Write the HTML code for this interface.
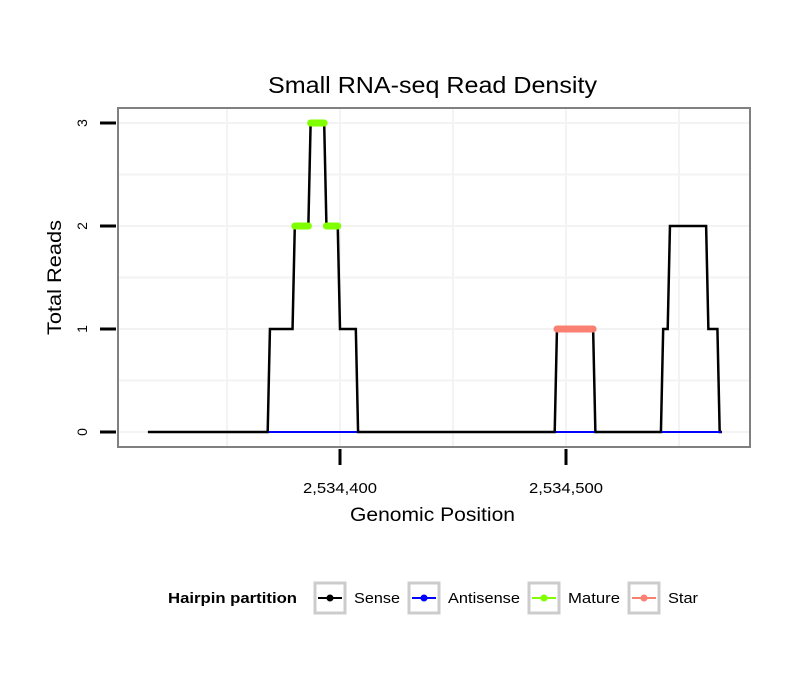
<!DOCTYPE html>
<html><head><meta charset="utf-8"><style>
body{margin:0;background:#fff;font-family:"Liberation Sans",sans-serif}
</style></head><body>
<svg id="chart" width="810" height="690" xmlns="http://www.w3.org/2000/svg" font-family="Liberation Sans, sans-serif">
<rect width="810" height="690" fill="#fff"/>
<text x="268" y="93" font-size="23" textLength="329" lengthAdjust="spacingAndGlyphs">Small RNA-seq Read Density</text>
<g id="grid"></g>
<g id="marks"></g>
<rect x="118" y="108" width="632" height="339" fill="none" stroke="#808080" stroke-width="2"/>
<g id="axes"></g>
<text x="350" y="521" font-size="19" textLength="165" lengthAdjust="spacingAndGlyphs">Genomic Position</text>
<text transform="translate(61,335) rotate(-90)" font-size="19" textLength="115" lengthAdjust="spacingAndGlyphs">Total Reads</text>
<g font-size="15">
<text x="168" y="603" font-weight="bold" textLength="129" lengthAdjust="spacingAndGlyphs">Hairpin partition</text>
<g><rect x="315" y="583" width="30" height="30" fill="#fff" stroke="#ccc" stroke-width="3"/><line x1="318" y1="598" x2="342" y2="598" stroke="#000" stroke-width="2"/><circle cx="330" cy="598" r="3.5" fill="#000"/><text x="354" y="603" textLength="46" lengthAdjust="spacingAndGlyphs">Sense</text></g>
<g><rect x="409" y="583" width="30" height="30" fill="#fff" stroke="#ccc" stroke-width="3"/><line x1="412" y1="598" x2="436" y2="598" stroke="#00f" stroke-width="2"/><circle cx="424" cy="598" r="3.5" fill="#00f"/><text x="448" y="603" textLength="72" lengthAdjust="spacingAndGlyphs">Antisense</text></g>
<g><rect x="529" y="583" width="30" height="30" fill="#fff" stroke="#ccc" stroke-width="3"/><line x1="532" y1="598" x2="556" y2="598" stroke="#7fff00" stroke-width="2"/><circle cx="544" cy="598" r="3.5" fill="#7fff00"/><text x="568" y="603" textLength="52" lengthAdjust="spacingAndGlyphs">Mature</text></g>
<g><rect x="629" y="583" width="30" height="30" fill="#fff" stroke="#ccc" stroke-width="3"/><line x1="632" y1="598" x2="656" y2="598" stroke="#fa8072" stroke-width="2"/><circle cx="644" cy="598" r="3.5" fill="#fa8072"/><text x="668" y="603" textLength="30" lengthAdjust="spacingAndGlyphs">Star</text></g>
</g>
</svg>
<script>
const sensePos = [315,368,369,379,380,386,387,393,394,399,400,407,408,495,496,512,513,542,543,545,546,562,563,567,568,569];
const senseVal = [0,0,1,1,2,2,3,3,2,2,1,1,0,0,1,1,0,0,1,1,2,2,1,1,0,0];
const antisenseSegs = [[368,408],[495,513],[542,569]];
const matureSegs = [[380,386,2],[387,393,3],[394,399,2]];
const starSegs = [[496,512,1]];
const xTicks = [400,500];
const xTickLabels = ["2,534,400","2,534,500"];
const yTicks = [0,1,2,3];

const X = p => 340 + (p - 400) * 2.26;
const Y = v => 432 - v * 103;
const NS = "http://www.w3.org/2000/svg";
function mk(tag, attrs, parent){const e=document.createElementNS(NS,tag);for(const k in attrs)e.setAttribute(k,attrs[k]);parent.appendChild(e);return e;}
const grid=document.getElementById('grid'), marks=document.getElementById('marks'), axes=document.getElementById('axes');
[350,400,450,500,550].forEach(p=>{const l=mk('line',{x1:X(p),x2:X(p),y1:109,y2:446,stroke:'#f3f3f3','stroke-width':2},grid);

});
[0,0.5,1,1.5,2,2.5,3].forEach(v=>{const l=mk('line',{x1:119,x2:749,y1:Y(v),y2:Y(v),stroke:'#f3f3f3','stroke-width':2},grid);

});
const pts=sensePos.map((p,i)=>X(p)+','+Y(senseVal[i])).join(' ');
const sl=mk('polyline',{points:pts,fill:'none',stroke:'#000','stroke-width':2.5},marks);


antisenseSegs.forEach(s=>{const l=mk('line',{x1:X(s[0])+1,x2:X(s[1])-1,y1:Y(0),y2:Y(0),stroke:'#00f','stroke-width':2},marks);

});
matureSegs.forEach(s=>{const l=mk('line',{x1:X(s[0]),x2:X(s[1]),y1:Y(s[2]),y2:Y(s[2]),stroke:'#7fff00','stroke-width':7,'stroke-linecap':'round'},marks);

});
starSegs.forEach(s=>{const l=mk('line',{x1:X(s[0]),x2:X(s[1]),y1:Y(s[2]),y2:Y(s[2]),stroke:'#fa8072','stroke-width':7,'stroke-linecap':'round'},marks);

});
yTicks.forEach(v=>{const t=mk('line',{x1:100,x2:116,y1:Y(v),y2:Y(v),stroke:'#000','stroke-width':3},axes);


const tx=mk('text',{transform:`translate(87,${Y(v)}) rotate(-90)`,'font-size':14,'text-anchor':'middle'},axes);tx.textContent=v;

});
xTicks.forEach((p,i)=>{const t=mk('line',{x1:X(p),x2:X(p),y1:449,y2:465,stroke:'#000','stroke-width':3},axes);


const tx=mk('text',{x:X(p)-37,y:493,'font-size':15,textLength:74,lengthAdjust:'spacingAndGlyphs'},axes);tx.textContent=xTickLabels[i];

});
</script>
</body></html>
